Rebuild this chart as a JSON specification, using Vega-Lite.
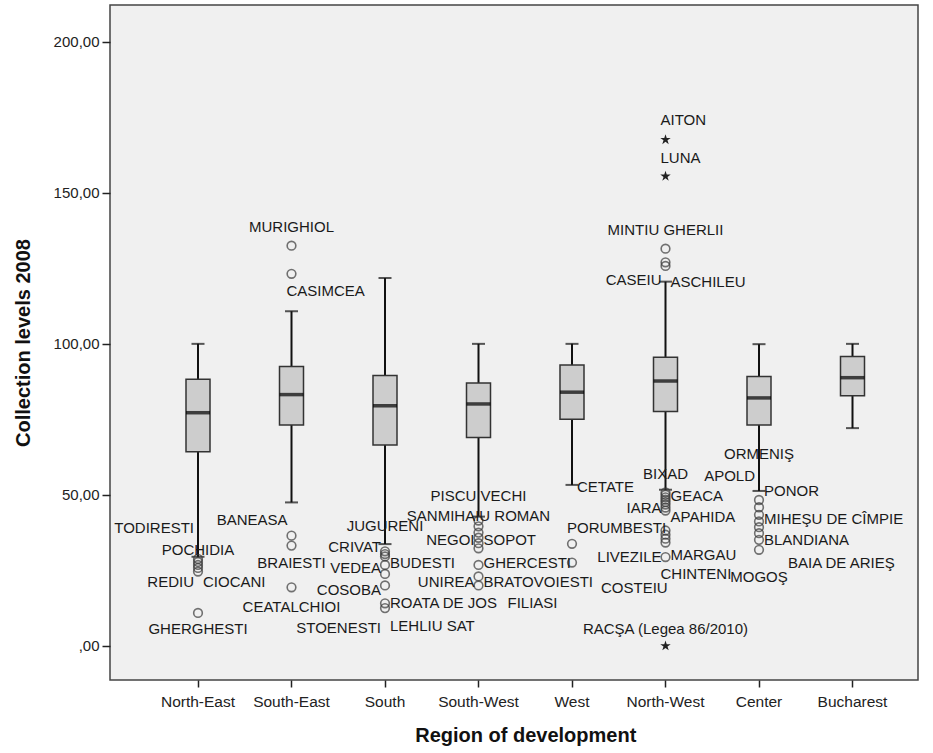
{
  "$schema": "https://vega.github.io/schema/vega-lite/v6.json",
  "autosize": "none",
  "width": 808,
  "height": 675,
  "padding": {"left": 110, "top": 5, "right": 15, "bottom": 73},
  "background": "#ffffff",
  "config": {
    "view": {"fill": "#f0f0f0", "stroke": "#444444", "strokeWidth": 1.5},
    "font": "Liberation Sans",
    "axis": {"labelFont": "Liberation Sans", "titleFont": "Liberation Sans", "labelColor": "#222222", "titleColor": "#111111", "tickColor": "#222222", "domain": false, "grid": false}
  },
  "datasets": {
    "boxes": [
      {"region": "North-East", "lower": 29.5, "q1": 64.3, "median": 77.2, "q3": 88.3, "upper": 100},
      {"region": "South-East", "lower": 47.5, "q1": 73.1, "median": 83.2, "q3": 92.5, "upper": 110.8},
      {"region": "South", "lower": 33.7, "q1": 66.5, "median": 79.5, "q3": 89.5, "upper": 121.8},
      {"region": "South-West", "lower": 42.8, "q1": 69.0, "median": 80.1, "q3": 87.0, "upper": 100},
      {"region": "West", "lower": 53.3, "q1": 75.0, "median": 84.0, "q3": 93.0, "upper": 100},
      {"region": "North-West", "lower": 51.7, "q1": 77.6, "median": 87.7, "q3": 95.6, "upper": 120.6},
      {"region": "Center", "lower": 51.3, "q1": 73.1, "median": 82.1, "q3": 89.2, "upper": 99.9},
      {"region": "Bucharest", "lower": 72.1, "q1": 82.8, "median": 88.8, "q3": 95.8, "upper": 100}
    ],
    "points": [
      {"region": "North-East", "value": 28.8, "kind": "outlier"},
      {"region": "North-East", "value": 27.8, "kind": "outlier"},
      {"region": "North-East", "value": 26.8, "kind": "outlier"},
      {"region": "North-East", "value": 25.8, "kind": "outlier"},
      {"region": "North-East", "value": 24.6, "kind": "outlier"},
      {"region": "North-East", "value": 10.9, "kind": "outlier"},
      {"region": "South-East", "value": 132.5, "kind": "outlier"},
      {"region": "South-East", "value": 123.2, "kind": "outlier"},
      {"region": "South-East", "value": 36.5, "kind": "outlier"},
      {"region": "South-East", "value": 33.2, "kind": "outlier"},
      {"region": "South-East", "value": 19.4, "kind": "outlier"},
      {"region": "South", "value": 31.3, "kind": "outlier"},
      {"region": "South", "value": 30.4, "kind": "outlier"},
      {"region": "South", "value": 29.6, "kind": "outlier"},
      {"region": "South", "value": 26.8, "kind": "outlier"},
      {"region": "South", "value": 23.8, "kind": "outlier"},
      {"region": "South", "value": 20.0, "kind": "outlier"},
      {"region": "South", "value": 14.1, "kind": "outlier"},
      {"region": "South", "value": 12.5, "kind": "outlier"},
      {"region": "South-West", "value": 41.5, "kind": "outlier"},
      {"region": "South-West", "value": 39.6, "kind": "outlier"},
      {"region": "South-West", "value": 37.5, "kind": "outlier"},
      {"region": "South-West", "value": 35.8, "kind": "outlier"},
      {"region": "South-West", "value": 34.0, "kind": "outlier"},
      {"region": "South-West", "value": 32.3, "kind": "outlier"},
      {"region": "South-West", "value": 26.8, "kind": "outlier"},
      {"region": "South-West", "value": 23.0, "kind": "outlier"},
      {"region": "South-West", "value": 20.0, "kind": "outlier"},
      {"region": "West", "value": 33.8, "kind": "outlier"},
      {"region": "West", "value": 27.6, "kind": "outlier"},
      {"region": "North-West", "value": 167.6, "kind": "extreme"},
      {"region": "North-West", "value": 155.5, "kind": "extreme"},
      {"region": "North-West", "value": 0, "kind": "extreme"},
      {"region": "North-West", "value": 131.5, "kind": "outlier"},
      {"region": "North-West", "value": 127.0, "kind": "outlier"},
      {"region": "North-West", "value": 125.8, "kind": "outlier"},
      {"region": "North-West", "value": 50.8, "kind": "outlier"},
      {"region": "North-West", "value": 50.0, "kind": "outlier"},
      {"region": "North-West", "value": 49.2, "kind": "outlier"},
      {"region": "North-West", "value": 48.4, "kind": "outlier"},
      {"region": "North-West", "value": 47.6, "kind": "outlier"},
      {"region": "North-West", "value": 46.8, "kind": "outlier"},
      {"region": "North-West", "value": 45.8, "kind": "outlier"},
      {"region": "North-West", "value": 44.8, "kind": "outlier"},
      {"region": "North-West", "value": 38.2, "kind": "outlier"},
      {"region": "North-West", "value": 36.8, "kind": "outlier"},
      {"region": "North-West", "value": 35.5, "kind": "outlier"},
      {"region": "North-West", "value": 34.2, "kind": "outlier"},
      {"region": "North-West", "value": 29.4, "kind": "outlier"},
      {"region": "Center", "value": 48.3, "kind": "outlier"},
      {"region": "Center", "value": 45.9, "kind": "outlier"},
      {"region": "Center", "value": 43.4, "kind": "outlier"},
      {"region": "Center", "value": 41.2, "kind": "outlier"},
      {"region": "Center", "value": 39.3, "kind": "outlier"},
      {"region": "Center", "value": 37.3, "kind": "outlier"},
      {"region": "Center", "value": 35.1, "kind": "outlier"},
      {"region": "Center", "value": 31.8, "kind": "outlier"}
    ],
    "labels": [
      {"region": "North-East", "level": 39.1, "label": "TODIRESTI", "side": "L"},
      {"region": "North-East", "level": 31.8, "label": "POCHIDIA", "side": "C"},
      {"region": "North-East", "level": 21.2, "label": "REDIU", "side": "L"},
      {"region": "North-East", "level": 21.2, "label": "CIOCANI", "side": "R"},
      {"region": "North-East", "level": 5.6, "label": "GHERGHESTI", "side": "C"},
      {"region": "South-East", "level": 138.8, "label": "MURIGHIOL", "side": "C"},
      {"region": "South-East", "level": 117.6, "label": "CASIMCEA", "side": "A"},
      {"region": "South-East", "level": 41.7, "label": "BANEASA", "side": "L"},
      {"region": "South-East", "level": 27.5, "label": "BRAIESTI", "side": "C"},
      {"region": "South-East", "level": 12.9, "label": "CEATALCHIOI", "side": "C"},
      {"region": "South", "level": 39.7, "label": "JUGURENI", "side": "C"},
      {"region": "South", "level": 32.9, "label": "CRIVAT", "side": "L"},
      {"region": "South", "level": 27.6, "label": "BUDESTI", "side": "R"},
      {"region": "South", "level": 25.7, "label": "VEDEA", "side": "L"},
      {"region": "South", "level": 18.5, "label": "COSOBA", "side": "L"},
      {"region": "South", "level": 14.3, "label": "ROATA DE JOS", "side": "R"},
      {"region": "South", "level": 6.7, "label": "LEHLIU SAT", "side": "R"},
      {"region": "South", "level": 5.9, "label": "STOENESTI", "side": "L"},
      {"region": "South-West", "level": 49.7, "label": "PISCU VECHI", "side": "C"},
      {"region": "South-West", "level": 43.0, "label": "SANMIHAIU ROMAN", "side": "C"},
      {"region": "South-West", "level": 35.1, "label": "NEGOI", "side": "L"},
      {"region": "South-West", "level": 35.1, "label": "SOPOT", "side": "R"},
      {"region": "South-West", "level": 27.6, "label": "GHERCESTI", "side": "R"},
      {"region": "South-West", "level": 21.0, "label": "UNIREA", "side": "L"},
      {"region": "South-West", "level": 21.0, "label": "BRATOVOIESTI", "side": "R"},
      {"region": "South-West", "level": 14.3, "label": "FILIASI", "side": "FR"},
      {"region": "West", "level": 52.7, "label": "CETATE", "side": "R"},
      {"region": "West", "level": 39.0, "label": "PORUMBESTI", "side": "A"},
      {"region": "West", "level": 19.1, "label": "COSTEIU", "side": "FR"},
      {"region": "North-West", "level": 174.0, "label": "AITON", "side": "A"},
      {"region": "North-West", "level": 161.5, "label": "LUNA", "side": "A"},
      {"region": "North-West", "level": 137.7, "label": "MINTIU GHERLII", "side": "C"},
      {"region": "North-West", "level": 121.2, "label": "CASEIU", "side": "L"},
      {"region": "North-West", "level": 120.6, "label": "ASCHILEU", "side": "R"},
      {"region": "North-West", "level": 57.0, "label": "BIXAD", "side": "C"},
      {"region": "North-West", "level": 49.7, "label": "GEACA", "side": "R"},
      {"region": "North-West", "level": 45.6, "label": "IARA", "side": "L"},
      {"region": "North-West", "level": 42.6, "label": "APAHIDA", "side": "R"},
      {"region": "North-West", "level": 30.1, "label": "MARGAU", "side": "R"},
      {"region": "North-West", "level": 29.4, "label": "LIVEZILE", "side": "L"},
      {"region": "North-West", "level": 23.8, "label": "CHINTENI", "side": "A"},
      {"region": "North-West", "level": 5.5, "label": "RACŞA (Legea 86/2010)", "side": "C"},
      {"region": "Center", "level": 63.6, "label": "ORMENIŞ", "side": "C"},
      {"region": "Center", "level": 56.3, "label": "APOLD", "side": "L"},
      {"region": "Center", "level": 51.3, "label": "PONOR", "side": "R"},
      {"region": "Center", "level": 42.0, "label": "MIHEŞU DE CÎMPIE", "side": "R"},
      {"region": "Center", "level": 34.9, "label": "BLANDIANA", "side": "R"},
      {"region": "Center", "level": 27.4, "label": "BAIA DE ARIEŞ", "side": "FR"},
      {"region": "Center", "level": 22.9, "label": "MOGOŞ", "side": "C"}
    ]
  },
  "encoding": {
    "x": {
      "field": "region",
      "type": "nominal",
      "sort": ["North-East", "South-East", "South", "South-West", "West", "North-West", "Center", "Bucharest"],
      "scale": {"domain": ["North-East", "South-East", "South", "South-West", "West", "North-West", "Center", "Bucharest"], "range": [41.25, 789.25], "paddingInner": 0, "paddingOuter": 0},
      "axis": {"title": "Region of development", "labelAngle": 0, "labelFontSize": 15.5, "tickSize": 7, "tickWidth": 1.5, "labelPadding": 7, "titleFontSize": 20, "titleFontWeight": "bold", "titlePadding": 16}
    }
  },
  "layer": [
    {
      "data": {"name": "boxes"},
      "mark": {"type": "rule", "color": "#111111", "strokeWidth": 2},
      "encoding": {
        "y": {
          "field": "lower",
          "type": "quantitative",
          "scale": {"domain": [-11.3, 212.2], "nice": false, "zero": false},
          "axis": {
            "title": "Collection levels 2008",
            "values": [0, 50, 100, 150, 200],
            "labelExpr": "datum.value == 0 ? ',00' : replace(format(datum.value, '.2f'), '.', ',')",
            "labelFontSize": 15,
            "tickSize": 8,
            "tickWidth": 1.5,
            "labelPadding": 3,
            "titleFontSize": 20,
            "titleFontWeight": "bold",
            "titlePadding": 20
          }
        },
        "y2": {"field": "upper"}
      }
    },
    {
      "data": {"name": "boxes"},
      "mark": {"type": "tick", "color": "#111111", "thickness": 2, "size": 13},
      "encoding": {"y": {"field": "upper", "type": "quantitative"}}
    },
    {
      "data": {"name": "boxes"},
      "mark": {"type": "tick", "color": "#111111", "thickness": 2, "size": 13},
      "encoding": {"y": {"field": "lower", "type": "quantitative"}}
    },
    {
      "data": {"name": "boxes"},
      "mark": {"type": "bar", "size": 24, "fill": "#cdcdcd", "stroke": "#333333", "strokeWidth": 1.5},
      "encoding": {"y": {"field": "q1", "type": "quantitative"}, "y2": {"field": "q3"}}
    },
    {
      "data": {"name": "boxes"},
      "mark": {"type": "tick", "color": "#000000", "thickness": 3.5, "size": 24},
      "encoding": {"y": {"field": "median", "type": "quantitative"}}
    },
    {
      "data": {"name": "points"},
      "transform": [{"filter": "datum.kind == 'outlier'"}],
      "mark": {"type": "point", "shape": "circle", "filled": false, "stroke": "#3a3a3a", "strokeWidth": 1.6, "size": 75},
      "encoding": {"y": {"field": "value", "type": "quantitative"}}
    },
    {
      "data": {"name": "points"},
      "transform": [{"filter": "datum.kind == 'extreme'"}],
      "mark": {"type": "point", "shape": "M0,-1L0.2245,-0.309L0.951,-0.309L0.363,0.118L0.588,0.809L0,0.382L-0.588,0.809L-0.363,0.118L-0.951,-0.309L-0.2245,-0.309Z", "filled": true, "color": "#222222", "size": 120, "opacity": 1},
      "encoding": {"y": {"field": "value", "type": "quantitative"}}
    },
    {
      "data": {"name": "labels"},
      "transform": [{"filter": "datum.side == 'L'"}],
      "mark": {"type": "text", "align": "right", "baseline": "middle", "dx": -4, "fontSize": 15, "color": "#1a1a1a"},
      "encoding": {"y": {"field": "level", "type": "quantitative"}, "text": {"field": "label"}}
    },
    {
      "data": {"name": "labels"},
      "transform": [{"filter": "datum.side == 'R'"}],
      "mark": {"type": "text", "align": "left", "baseline": "middle", "dx": 5, "fontSize": 15, "color": "#1a1a1a"},
      "encoding": {"y": {"field": "level", "type": "quantitative"}, "text": {"field": "label"}}
    },
    {
      "data": {"name": "labels"},
      "transform": [{"filter": "datum.side == 'A'"}],
      "mark": {"type": "text", "align": "left", "baseline": "middle", "dx": -5, "fontSize": 15, "color": "#1a1a1a"},
      "encoding": {"y": {"field": "level", "type": "quantitative"}, "text": {"field": "label"}}
    },
    {
      "data": {"name": "labels"},
      "transform": [{"filter": "datum.side == 'FR'"}],
      "mark": {"type": "text", "align": "left", "baseline": "middle", "dx": 29, "fontSize": 15, "color": "#1a1a1a"},
      "encoding": {"y": {"field": "level", "type": "quantitative"}, "text": {"field": "label"}}
    },
    {
      "data": {"name": "labels"},
      "transform": [{"filter": "datum.side == 'C'"}],
      "mark": {"type": "text", "align": "center", "baseline": "middle", "fontSize": 15, "color": "#1a1a1a"},
      "encoding": {"y": {"field": "level", "type": "quantitative"}, "text": {"field": "label"}}
    }
  ]
}
